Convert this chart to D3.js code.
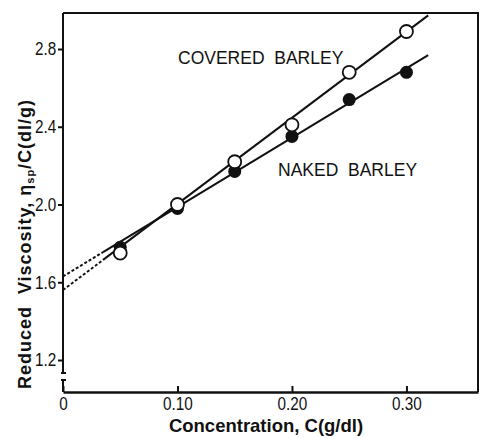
<!DOCTYPE html>
<html>
<head>
<meta charset="utf-8">
<script src="https://cdn.jsdelivr.net/npm/d3@7"></script>
<style>
  body { margin: 0; background: #fff; }
  text { font-family: "Liberation Sans", "DejaVu Sans", sans-serif; fill: #111; }
</style>
</head>
<body>
<div id="chart"></div>
<script>
// data
const conc = [0.05, 0.10, 0.15, 0.20, 0.25, 0.30];
const covered = [1.75, 2.00, 2.22, 2.41, 2.68, 2.89];
const naked = [1.78, 1.98, 2.17, 2.35, 2.54, 2.68];

// fitted lines: [intercept, slope]
const coveredFit = [1.56, 4.43];
const nakedFit = [1.63, 3.57];
const fitStart = 0.035, fitEnd = 0.319;

const xTicks = [0, 0.10, 0.20, 0.30];
const xTickLabels = ["0", "0.10", "0.20", "0.30"];
const yTicks = [1.2, 1.6, 2.0, 2.4, 2.8];

const width = 485, height = 438;
const margin = {top: 13, right: 7, bottom: 46, left: 63};

const svg = d3.select("#chart")
  .append("svg")
  .attr("width", width)
  .attr("height", height);

const xScale = d3.scaleLinear()
  .domain([0, 0.3625])
  .range([margin.left, width - margin.right]);

const yScale = d3.scaleLinear()
  .domain([1.0354, 2.9852])
  .range([height - margin.bottom, margin.top]);

// frame (top + right)
svg.append("path")
  .attr("d", `M${margin.left},${margin.top}H${width - margin.right}V${height - margin.bottom}`)
  .attr("fill", "none")
  .attr("stroke", "#111")
  .attr("stroke-width", 2);

// y axis
const yAxis = svg.append("g")
  .attr("transform", `translate(${margin.left},0)`)
  .call(d3.axisLeft(yScale).tickValues(yTicks).tickFormat(d3.format(".1f")).tickSize(5).tickPadding(3));
yAxis.select(".domain").remove();
yAxis.selectAll("line").attr("stroke", "#111").attr("stroke-width", 2);
yAxis.selectAll("text")
  .attr("font-size", "18px")
  .attr("fill", "#111")
  .attr("transform", "scale(0.85,1)");

// y axis line with break near bottom
const yb = height - margin.bottom;
svg.append("line")
  .attr("x1", margin.left).attr("x2", margin.left)
  .attr("y1", margin.top).attr("y2", yb - 19)
  .attr("stroke", "#111").attr("stroke-width", 2);
svg.append("line")
  .attr("x1", margin.left).attr("x2", margin.left)
  .attr("y1", yb - 12).attr("y2", yb)
  .attr("stroke", "#111").attr("stroke-width", 2);
svg.append("path")
  .attr("d", `M${margin.left - 2},${yb - 19}H${margin.left + 3}M${margin.left - 2},${yb - 12}H${margin.left + 3}`)
  .attr("stroke", "#111").attr("stroke-width", 2);

// x axis
const xAxis = svg.append("g")
  .attr("transform", `translate(0,${yb})`)
  .call(d3.axisBottom(xScale).tickValues(xTicks)
    .tickFormat((d, i) => xTickLabels[i]).tickSizeInner(-6).tickSizeOuter(0).tickPadding(5));
xAxis.select(".domain").attr("stroke", "#111").attr("stroke-width", 2.5);
xAxis.selectAll("line").attr("stroke", "#111").attr("stroke-width", 2);
xAxis.selectAll("text")
  .attr("font-size", "18px")
  .attr("fill", "#111")
  .attr("transform", "scale(0.85,1)");

// fit lines: dashed extrapolation + solid
const fits = [coveredFit, nakedFit];
fits.forEach(f => {
  svg.append("line")
    .attr("x1", xScale(0)).attr("y1", yScale(f[0]))
    .attr("x2", xScale(fitStart)).attr("y2", yScale(f[0] + f[1] * fitStart))
    .attr("stroke", "#111").attr("stroke-width", 2)
    .attr("stroke-dasharray", "3,2");
  svg.append("line")
    .attr("x1", xScale(fitStart)).attr("y1", yScale(f[0] + f[1] * fitStart))
    .attr("x2", xScale(fitEnd)).attr("y2", yScale(f[0] + f[1] * fitEnd))
    .attr("stroke", "#111").attr("stroke-width", 2);
});

// naked barley points (filled)
svg.selectAll("circle.naked")
  .data(conc)
  .enter()
  .append("circle")
    .attr("class", "naked")
    .attr("cx", d => xScale(d))
    .attr("cy", (d, i) => yScale(naked[i]))
    .attr("r", 6.5)
    .attr("fill", "#111");

// covered barley points (open)
svg.selectAll("circle.covered")
  .data(conc)
  .enter()
  .append("circle")
    .attr("class", "covered")
    .attr("cx", d => xScale(d))
    .attr("cy", (d, i) => yScale(covered[i]))
    .attr("r", 6.5)
    .attr("fill", "#fff")
    .attr("stroke", "#111")
    .attr("stroke-width", 1.8);

// series labels
svg.append("text")
  .attr("x", 178).attr("y", 64)
  .attr("font-size", "17.5px")
  .style("white-space", "pre")
  .text("COVERED  BARLEY");
svg.append("text")
  .attr("x", 278).attr("y", 176)
  .attr("font-size", "17.5px")
  .style("white-space", "pre")
  .text("NAKED  BARLEY");

// axis titles
svg.append("text")
  .attr("x", 266).attr("y", 432)
  .attr("text-anchor", "middle")
  .attr("font-size", "18.5px")
  .attr("font-weight", "bold")
  .text("Concentration, C(g/dl)");

const yt = svg.append("text")
  .attr("transform", "translate(31,244) rotate(-90)")
  .attr("text-anchor", "middle")
  .attr("font-size", "18px")
  .attr("font-weight", "bold")
  .attr("letter-spacing", "1px")
  .style("white-space", "pre");
yt.append("tspan").text("Reduced  Viscosity, η");
yt.append("tspan").attr("font-size", "11px").attr("dy", 3).text("sp");
yt.append("tspan").attr("dy", -3).text("/C(dl/g)");
</script>
</body>
</html>
